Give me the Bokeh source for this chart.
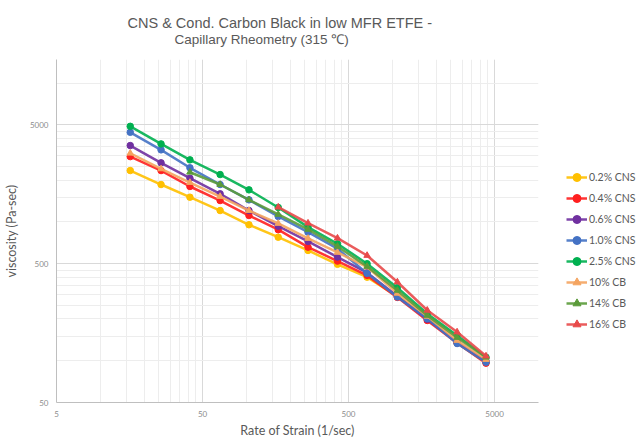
import math
from bokeh.plotting import figure
from bokeh.models import Range1d, FixedTicker, Legend, LegendItem, Title
from bokeh.embed import file_html
from bokeh.resources import INLINE

# ---- data ----
shear_rate = [16, 26, 41, 66, 104, 165, 264, 420, 670, 1080, 1730, 2770, 4370]
nan = float("nan")
cns_02 = [2345, 1860, 1507, 1208, 954, 776, 623, 495, 400, 291, 202, 134, 97.5]
cns_04 = [2955, 2345, 1800, 1426, 1112, 879, 658, 522, 412, 286, 195, 134, 96]
cns_06 = [3550, 2665, 2065, 1595, 1208, 932, 723, 558, 431, 291, 199, 136, 99]
cns_10 = [4424, 3305, 2455, 1860, 1442, 1094, 844, 641, 426, 288, 201, 133, 97.5]
cns_25 = [4886, 3650, 2800, 2195, 1702, 1271, 917, 696, 500, 336, 218, 152, 106]
cb_10 = [3125, 2410, 1923, 1524, 1208, 975, 760, 603, 473, 306, 209, 140, 102]
cb_14 = [nan, nan, 2280, 1860, 1442, 1132, 883, 666, 478, 321, 212, 147, 106]
cb_16 = [nan, nan, nan, nan, nan, 1277, 980, 764, 573, 369, 231, 161, 108]

series_names = ["0.2% CNS", "0.4% CNS", "0.6% CNS", "1.0% CNS", "2.5% CNS",
                "10% CB", "14% CB", "16% CB"]
series_values = [cns_02, cns_04, cns_06, cns_10, cns_25, cb_10, cb_14, cb_16]
series_colors = ["#FFC000", "#FF1F1F", "#7030A0", "#4472C4", "#00B050",
                 "#F4A460", "#5B9B3A", "#E84A4A"]
series_markers = ["circle"] * 5 + ["triangle"] * 3

x_ticks = [5, 50, 500, 5000]
y_ticks = [50, 500, 5000]
x_minor = [k * m for m in (5, 50, 500, 5000) for k in range(1, 10)]
y_minor = [k * m for m in (50, 500, 5000) for k in range(1, 10)]

title_1 = "CNS & Cond. Carbon Black in low MFR ETFE -"
title_2 = "Capillary Rheometry (315 \u2103)"

p = figure(frame_width=482, frame_height=343, output_backend="svg", toolbar_location=None,
           x_axis_type="log", y_axis_type="log",
           x_range=Range1d(5, 10000), y_range=Range1d(50, 14800),
           min_border_left=50, min_border_right=0, min_border_top=0,
           min_border_bottom=0, title=None)
p.outline_line_color = None
p.background_fill_color = "white"
p.border_fill_color = "white"

p.xaxis.ticker = FixedTicker(ticks=x_ticks, minor_ticks=x_minor)
p.yaxis.ticker = FixedTicker(ticks=y_ticks, minor_ticks=y_minor)
p.xaxis.major_label_overrides = {t: str(t) for t in x_ticks}
p.yaxis.major_label_overrides = {t: str(t) for t in y_ticks}

for ax in (p.xaxis, p.yaxis):
    ax.major_tick_line_color = None
    ax.minor_tick_line_color = None
    ax.major_tick_out = 0
    ax.minor_tick_out = 0
    ax.axis_line_color = "#BFBFBF"
    ax.major_label_text_font_size = "8px"
    ax.major_label_text_color = "#8C8C8C"
    ax.major_label_text_font = "Lato"
    ax.axis_label_text_font = "Lato"
    ax.axis_label_text_font_size = "12.5px"
    ax.axis_label_text_font_style = "normal"
    ax.axis_label_text_color = "#595959"
p.xaxis.major_label_standoff = 8
p.xaxis.axis_label_standoff = 3
p.yaxis.major_label_standoff = 8
p.yaxis.axis_label_standoff = 8
p.xaxis.axis_label = "Rate of Strain (1/sec)"
p.yaxis.axis_label = "viscosity (Pa-sec)"

for g in (p.xgrid, p.ygrid):
    g.grid_line_color = "#D9D9D9"
    g.minor_grid_line_color = "#EDEDED"

items = []
for name, vals, col, mk in zip(series_names, series_values, series_colors, series_markers):
    xs = [x for x, v in zip(shear_rate, vals) if not math.isnan(v)]
    ys = [v for v in vals if not math.isnan(v)]
    r1 = p.line(xs, ys, line_color=col, line_width=2.5, line_alpha=0.9)
    r2 = p.scatter(xs, ys, marker=mk, size=6.5, fill_color=col, line_color=col)
    items.append(LegendItem(label=name, renderers=[r1, r2]))

legend = Legend(items=items, location=(28, 68), glyph_width=21, glyph_height=20,
                label_height=20, spacing=1, padding=0, margin=0, label_standoff=2,
                border_line_color=None, background_fill_alpha=0,
                label_text_font="Lato", label_text_font_size="10.5px",
                label_text_color="#595959")
p.add_layout(legend, "right")

title_style = dict(align="left", text_font="Liberation Sans",
                   text_font_style="normal", text_color="#595959")
gap_below = Title(text=" ", text_font_size="1px", text_color="white", standoff=10)
t2 = Title(text=title_2, offset=118, standoff=-1, text_font_size="13.5px", **title_style)
t1 = Title(text=title_1, offset=71, standoff=-1, text_font_size="14.5px", **title_style)
gap_above = Title(text=" ", text_font_size="1px", text_color="white", standoff=10)
p.add_layout(gap_below, "above")
p.add_layout(t2, "above")
p.add_layout(t1, "above")
p.add_layout(gap_above, "above")

open("out.html", "w").write(file_html(p, INLINE))
